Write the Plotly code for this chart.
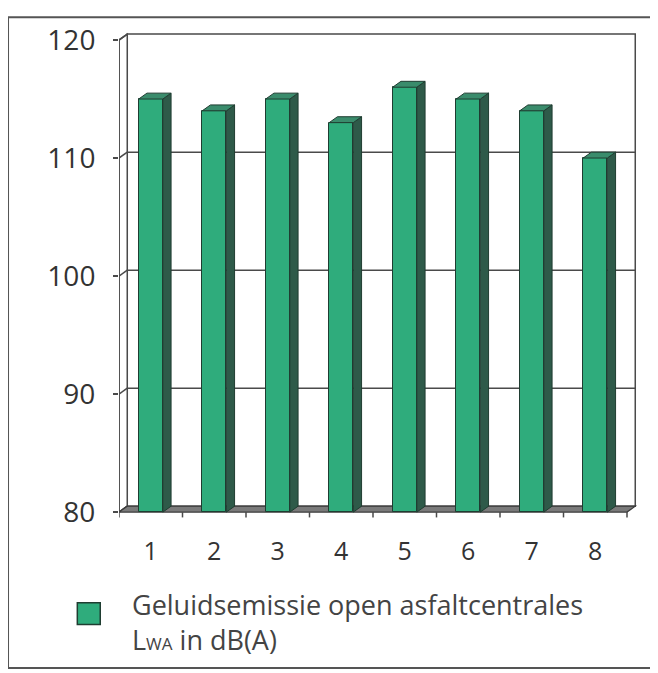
import plotly.graph_objects as go

# ---- data ----
categories = [1, 2, 3, 4, 5, 6, 7, 8]
category_labels = ["1", "2", "3", "4", "5", "6", "7", "8"]
values = [115, 114, 115, 113, 116, 115, 114, 110]
y_ticks = [80, 90, 100, 110, 120]
legend_line1 = "Geluidsemissie open asfaltcentrales"
legend_line2 = "L<span style='font-size:17px'>WA</span> in dB(A)"

# ---- style / geometry constants ----
Y0, Y1 = 80, 120
DX, DY = 0.13, 0.5          # pseudo-3D depth in axis units
BW = 0.38                   # bar width
FRONT = "#2fac7c"
SIDE = "#2e5a49"
TOP = "#3a8c6c"
EDGE = "#1f3d31"
AX = "#4a4a4a"
FONT = "Open Sans"
PW, PH = 521, 500           # plot area size in px
PXY = 11.97                 # px per dB

fig = go.Figure()

# front faces
fig.add_trace(go.Bar(
    x=categories, y=[v - Y0 for v in values], base=Y0, width=BW,
    marker=dict(color=FRONT, line=dict(color=EDGE, width=1)),
    showlegend=False, hoverinfo="skip"))

# side and top faces derived from the values
for c, v in zip(categories, values):
    xr = c + BW / 2
    xl = c - BW / 2
    fig.add_trace(go.Scatter(
        x=[xr, xr + DX, xr + DX, xr, xr], y=[Y0, Y0 + DY, v + DY, v, Y0],
        fill="toself", fillcolor=SIDE, mode="lines",
        line=dict(color=EDGE, width=1), showlegend=False, hoverinfo="skip"))
    fig.add_trace(go.Scatter(
        x=[xl, xr, xr + DX, xl + DX, xl], y=[v, v, v + DY, v + DY, v],
        fill="toself", fillcolor=TOP, mode="lines",
        line=dict(color=EDGE, width=1), showlegend=False, hoverinfo="skip"))

xa, xb = categories[0] - 0.5, categories[-1] + 0.5
shapes = []
# back wall
shapes.append(dict(type="rect", xref="x", yref="y", x0=xa + DX, x1=xb + DX,
                   y0=Y0 + DY, y1=Y1 + DY, line=dict(color=AX, width=1.5),
                   fillcolor="white", layer="below"))
# left wall
shapes.append(dict(type="path", xref="x", yref="y",
                   path=f"M{xa},{Y0} L{xa+DX},{Y0+DY} L{xa+DX},{Y1+DY} L{xa},{Y1} Z",
                   line=dict(color=AX, width=1.5), fillcolor="white", layer="below"))
# gridlines on back wall + slanted ticks on left wall
for t in y_ticks[1:-1]:
    shapes.append(dict(type="line", xref="x", yref="y", x0=xa + DX, x1=xb + DX,
                       y0=t + DY, y1=t + DY, line=dict(color=AX, width=1.5), layer="below"))
for t in y_ticks:
    shapes.append(dict(type="line", xref="x", yref="y", x0=xa, x1=xa + DX,
                       y0=t, y1=t + DY, line=dict(color=AX, width=1.5), layer="below"))
# floor
shapes.append(dict(type="path", xref="x", yref="y",
                   path=f"M{xa},{Y0} L{xb},{Y0} L{xb+DX},{Y0+DY} L{xa+DX},{Y0+DY} Z",
                   line=dict(color="#3a3a3a", width=1.2), fillcolor="#7a7a7a", layer="below"))
# front value axis
shapes.append(dict(type="line", xref="x", yref="y", x0=xa, x1=xa, y0=Y0, y1=Y1,
                   line=dict(color=AX, width=1.5)))
# category boundary ticks
for k in range(len(categories) + 1):
    xv = xa + k
    shapes.append(dict(type="line", xref="x", yref="y", x0=xv, x1=xv,
                       y0=Y0, y1=Y0 - 0.45, line=dict(color=AX, width=1.5)))
# outer frame
shapes.append(dict(type="rect", xref="paper", yref="paper", x0=-0.213, x1=1.1,
                   y0=-0.30, y1=1.02, line=dict(color="#555555", width=2)))
# legend swatch
shapes.append(dict(type="rect", xref="paper", yref="paper", x0=-0.080, x1=-0.036,
                   y0=(520 - 626) / PH, y1=(520 - 604) / PH,
                   fillcolor=FRONT, line=dict(color=EDGE, width=1.5)))

fig.update_layout(
    width=650, height=665,
    margin=dict(l=111, r=18, t=12, b=153),
    paper_bgcolor="white", plot_bgcolor="white",
    shapes=shapes,
    bargap=0,
    font=dict(family=FONT, color="#333333"),
    xaxis=dict(range=[xa, xa + PW / 63.5], tickvals=categories, ticktext=category_labels,
               showgrid=False, zeroline=False, showline=False, ticks="",
               tickfont=dict(size=25, family=FONT, color="#333333"),
               ticklabelstandoff=14, fixedrange=True),
    yaxis=dict(range=[Y0 - 8 / PXY, Y0 + (PH - 8) / PXY], tickvals=y_ticks,
               showgrid=False, zeroline=False, showline=False,
               ticks="outside", ticklen=5, tickwidth=1.5, tickcolor=AX,
               tickfont=dict(size=28, family=FONT, color="#333333"),
               ticklabelstandoff=12, fixedrange=True),
    annotations=[
        dict(xref="paper", yref="paper", x=(130 - 119) / PW, y=(520 - 662) / PH,
             xanchor="left", yanchor="bottom", align="left", showarrow=False,
             text=legend_line1 + "<br>" + legend_line2,
             font=dict(size=27, family=FONT, color="#444444")),
    ],
)

fig.write_html("out.html")
